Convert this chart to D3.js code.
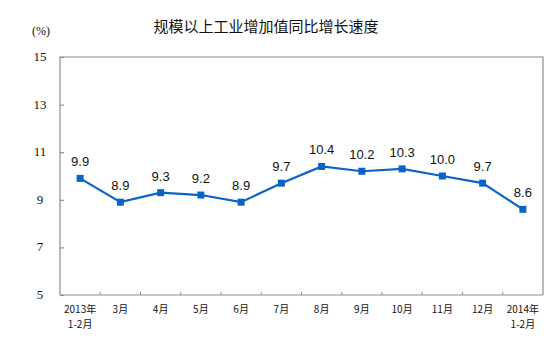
<!DOCTYPE html>
<html>
<head>
<meta charset="utf-8">
<script src="https://cdn.jsdelivr.net/npm/d3@7"></script>
<style>
  html, body { margin: 0; padding: 0; background: #fff; }
  svg { display: block; }
</style>
</head>
<body>
<svg id="chart" width="554" height="339"></svg>
<script>
// Monthly industrial value-added growth, year on year (%)
const categories = ["2013年\n1-2月", "3月", "4月", "5月", "6月", "7月", "8月", "9月", "10月", "11月", "12月", "2014年\n1-2月"];
const growth = [9.9, 8.9, 9.3, 9.2, 8.9, 9.7, 10.4, 10.2, 10.3, 10.0, 9.7, 8.6];
const yTicks = [5, 7, 9, 11, 13, 15];
const title = "规模以上工业增加值同比增长速度";
const unit = "(%)";

const svg = d3.select("#chart");
const m = { left: 60, right: 543, top: 57, bottom: 295 };

const x = d3.scaleBand().domain(categories).range([m.left, m.right]).padding(0);
const y = d3.scaleLinear().domain([5, 15]).range([m.bottom, m.top]);

const serif = "'Liberation Serif', 'Times New Roman', serif";
const cjk = "'Noto Sans CJK SC', sans-serif";
const axisColor = "#8c8c8c";

// title and unit
svg.append("text").attr("x", 266).attr("y", 32).attr("text-anchor", "middle")
  .attr("font-family", cjk).attr("font-size", 15).attr("fill", "#111").text(title);
svg.append("text").attr("x", 41).attr("y", 35).attr("text-anchor", "middle")
  .attr("font-family", serif).attr("font-size", 12).attr("fill", "#111").text(unit);

// frame (left, top, right)
svg.append("path")
  .attr("d", `M${m.left},${m.bottom}V${m.top}H${m.right}V${m.bottom}`)
  .attr("fill", "none").attr("stroke", axisColor).attr("stroke-width", 1.2);

// left axis, ticks pointing inward
const yAxis = svg.append("g").attr("transform", `translate(${m.left},0)`)
  .call(d3.axisRight(y).tickValues(yTicks).tickSize(4).tickFormat(""));
yAxis.select(".domain").remove();
yAxis.selectAll("line").attr("stroke", axisColor).attr("stroke-width", 1.2);
svg.append("g").selectAll("text").data(yTicks).join("text")
  .attr("x", 40).attr("y", d => y(d) + 4).attr("text-anchor", "middle")
  .attr("font-family", serif).attr("font-size", 13).attr("fill", "#111")
  .text(d => d);

// bottom axis with ticks on category boundaries
const bounds = categories.slice(1).map(c => x(c));
svg.append("line").attr("x1", m.left).attr("x2", m.right)
  .attr("y1", m.bottom).attr("y2", m.bottom)
  .attr("stroke", axisColor).attr("stroke-width", 1.2);
svg.append("g").selectAll("line").data(bounds).join("line")
  .attr("x1", d => d).attr("x2", d => d)
  .attr("y1", m.bottom).attr("y2", m.bottom - 3)
  .attr("stroke", axisColor).attr("stroke-width", 1);

// category labels, one text element per line
const labelLines = categories.flatMap(c =>
  c.split("\n").map((ln, i) => ({ c, ln, i })));
svg.append("g").selectAll("text").data(labelLines).join("text")
  .attr("x", d => x(d.c) + x.bandwidth() / 2)
  .attr("y", d => 313 + d.i * 14.5)
  .attr("text-anchor", "middle")
  .attr("font-family", cjk).attr("font-size", 10).attr("fill", "#111")
  .text(d => d.ln);

// series
const cx = d => x(d) + x.bandwidth() / 2;
const pts = categories.map((c, i) => [cx(c), y(growth[i]), growth[i]]);
const blue = "#0a64c8";

svg.append("path").datum(pts)
  .attr("d", d3.line().x(d => d[0]).y(d => d[1]))
  .attr("fill", "none").attr("stroke", blue).attr("stroke-width", 2.2);

svg.append("g").selectAll("rect").data(pts).join("rect")
  .attr("x", d => d[0] - 3.5).attr("y", d => d[1] - 3.5)
  .attr("width", 7).attr("height", 7).attr("fill", blue);

svg.append("g").selectAll("text").data(pts).join("text")
  .attr("x", d => d[0]).attr("y", d => d[1] - 12)
  .attr("text-anchor", "middle")
  .attr("font-family", "'Liberation Sans', Arial, sans-serif")
  .attr("font-size", 13).attr("fill", "#111")
  .text(d => d[2].toFixed(1));
</script>
</body>
</html>
